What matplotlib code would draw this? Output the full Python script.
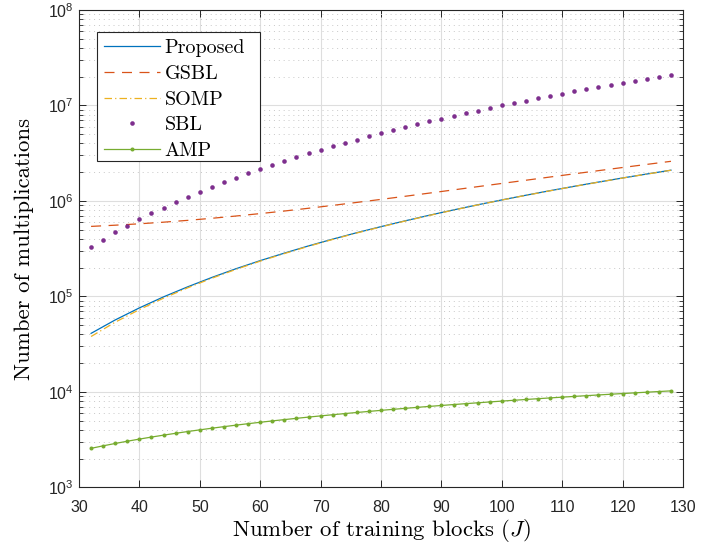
import numpy as np
import matplotlib
matplotlib.use("Agg")
import matplotlib.pyplot as plt
from matplotlib.patches import Rectangle
from matplotlib.ticker import LogLocator, LogFormatterMathtext, NullFormatter, MultipleLocator

plt.rcParams['font.family'] = ['cmr10']
plt.rcParams['mathtext.fontset'] = 'cm'
plt.rcParams['axes.unicode_minus'] = False

# ---------------- data ----------------
J_line = [32, 36, 40, 44, 48, 52, 56, 60, 64, 68, 72, 76, 80,
          84, 88, 92, 96, 100, 104, 108, 112, 116, 120, 124, 128]

proposed = [4.10e4, 5.67e4, 7.58e4, 9.89e4, 1.26e5, 1.58e5, 1.95e5, 2.37e5,
            2.84e5, 3.38e5, 3.98e5, 4.65e5, 5.38e5, 6.19e5, 7.08e5, 8.05e5,
            9.11e5, 1.025e6, 1.148e6, 1.281e6, 1.424e6, 1.576e6, 1.740e6,
            1.914e6, 2.100e6]

gsbl = [5.41e5, 5.57e5, 5.76e5, 5.99e5, 6.26e5, 6.58e5, 6.95e5, 7.37e5,
        7.84e5, 8.38e5, 8.98e5, 9.65e5, 1.038e6, 1.119e6, 1.208e6, 1.305e6,
        1.411e6, 1.525e6, 1.648e6, 1.781e6, 1.924e6, 2.076e6, 2.240e6,
        2.414e6, 2.600e6]

somp = [3.80e4, 5.37e4, 7.28e4, 9.59e4, 1.23e5, 1.55e5, 1.92e5, 2.34e5,
        2.81e5, 3.35e5, 3.95e5, 4.62e5, 5.35e5, 6.16e5, 7.05e5, 8.02e5,
        9.08e5, 1.022e6, 1.145e6, 1.278e6, 1.421e6, 1.573e6, 1.737e6,
        1.911e6, 2.097e6]

J_mark = [32, 34, 36, 38, 40, 42, 44, 46, 48, 50, 52, 54, 56, 58, 60, 62,
          64, 66, 68, 70, 72, 74, 76, 78, 80, 82, 84, 86, 88, 90, 92, 94,
          96, 98, 100, 102, 104, 106, 108, 110, 112, 114, 116, 118, 120,
          122, 124, 126, 128]

sbl = [3.28e5, 3.93e5, 4.67e5, 5.49e5, 6.40e5, 7.41e5, 8.52e5, 9.73e5,
       1.106e6, 1.250e6, 1.406e6, 1.575e6, 1.756e6, 1.951e6, 2.160e6,
       2.383e6, 2.621e6, 2.875e6, 3.144e6, 3.430e6, 3.732e6, 4.052e6,
       4.390e6, 4.746e6, 5.120e6, 5.514e6, 5.927e6, 6.361e6, 6.815e6,
       7.290e6, 7.787e6, 8.306e6, 8.847e6, 9.412e6, 1.000e7, 1.061e7,
       1.125e7, 1.191e7, 1.260e7, 1.331e7, 1.405e7, 1.482e7, 1.561e7,
       1.643e7, 1.728e7, 1.816e7, 1.907e7, 2.000e7, 2.097e7]

amp = [2560, 2720, 2880, 3040, 3200, 3360, 3520, 3680, 3840, 4000, 4160,
       4320, 4480, 4640, 4800, 4960, 5120, 5280, 5440, 5600, 5760, 5920,
       6080, 6240, 6400, 6560, 6720, 6880, 7040, 7200, 7360, 7520, 7680,
       7840, 8000, 8160, 8320, 8480, 8640, 8800, 8960, 9120, 9280, 9440,
       9600, 9760, 9920, 10080, 10240]

labels = ['Proposed', 'GSBL', 'SOMP', 'SBL', 'AMP']
colors = ['#0072BD', '#D95319', '#EDB120', '#7E2F8E', '#77AC30']

# ---------------- figure ----------------
fig = plt.figure(figsize=(7.13, 5.44), dpi=100)
ax = fig.add_axes([0.1108, 0.1042, 0.8472, 0.8774])

ax.plot(J_line, proposed, color=colors[0], lw=0.9, label=labels[0], zorder=3)
ax.plot(J_line, gsbl, color=colors[1], lw=0.9, dashes=(8, 6), label=labels[1], zorder=3)
ax.plot(J_line, somp, color=colors[2], lw=0.9, dashes=(6, 2.5, 1, 2.5), label=labels[2], zorder=4)
ax.plot(J_mark, sbl, color=colors[3], ls='none', marker='o', ms=3.3, mew=0,
        label=labels[3], zorder=3)
ax.plot(J_mark, amp, color=colors[4], lw=0.9, marker='o', ms=2.9, mew=0,
        label=labels[4], zorder=3)

ax.set_yscale('log')
ax.set_xlim(30, 130)
ax.set_ylim(1e3, 1e8)
ax.xaxis.set_major_locator(MultipleLocator(10))
ax.yaxis.set_major_locator(LogLocator(base=10, numticks=10))
ax.yaxis.set_minor_locator(LogLocator(base=10, subs=np.arange(2, 10), numticks=10))
ax.yaxis.set_major_formatter(LogFormatterMathtext())
ax.yaxis.set_minor_formatter(NullFormatter())

ax.grid(True, which='major', color='#dedede', lw=0.8, ls='-')
ax.grid(True, which='minor', axis='y', color='#c8c8c8', lw=0.7, ls=(0, (1, 4)))
ax.set_axisbelow(True)

ax.tick_params(which='both', direction='in', top=True, right=True,
               color='#262626')
ax.tick_params(which='major', length=5, width=0.7)
ax.tick_params(which='minor', length=3, width=0.6)
for lab in ax.get_xticklabels() + ax.get_yticklabels():
    lab.set_fontfamily('Liberation Sans')
    lab.set_fontsize(11.5)
    lab.set_color('#262626')
ax.tick_params(axis='x', pad=9)
ax.tick_params(axis='y', pad=4)

for s in ax.spines.values():
    s.set_color('#262626')
    s.set_linewidth(0.8)

ax.set_xlabel('Number of training blocks ($J$)', fontsize=16.4, labelpad=1.5)
ax.set_ylabel('Number of multiplications', fontsize=16.4, labelpad=10)

# legend frame (MATLAB-style box with extra right padding)
ax.add_patch(Rectangle((0.030, 0.6836), 0.270, 0.2704, transform=ax.transAxes,
                       facecolor='white', edgecolor='#262626', lw=0.8,
                       zorder=4.5, clip_on=False))
leg = ax.legend(loc='upper left', bbox_to_anchor=(0.030, 0.954),
                borderaxespad=0, fontsize=14.5, handlelength=2.75,
                handletextpad=0.25, labelspacing=0.38, borderpad=0.35,
                frameon=False, markerscale=1.0, numpoints=1)
leg.set_zorder(5)

fig.savefig('out.png', dpi=100)
